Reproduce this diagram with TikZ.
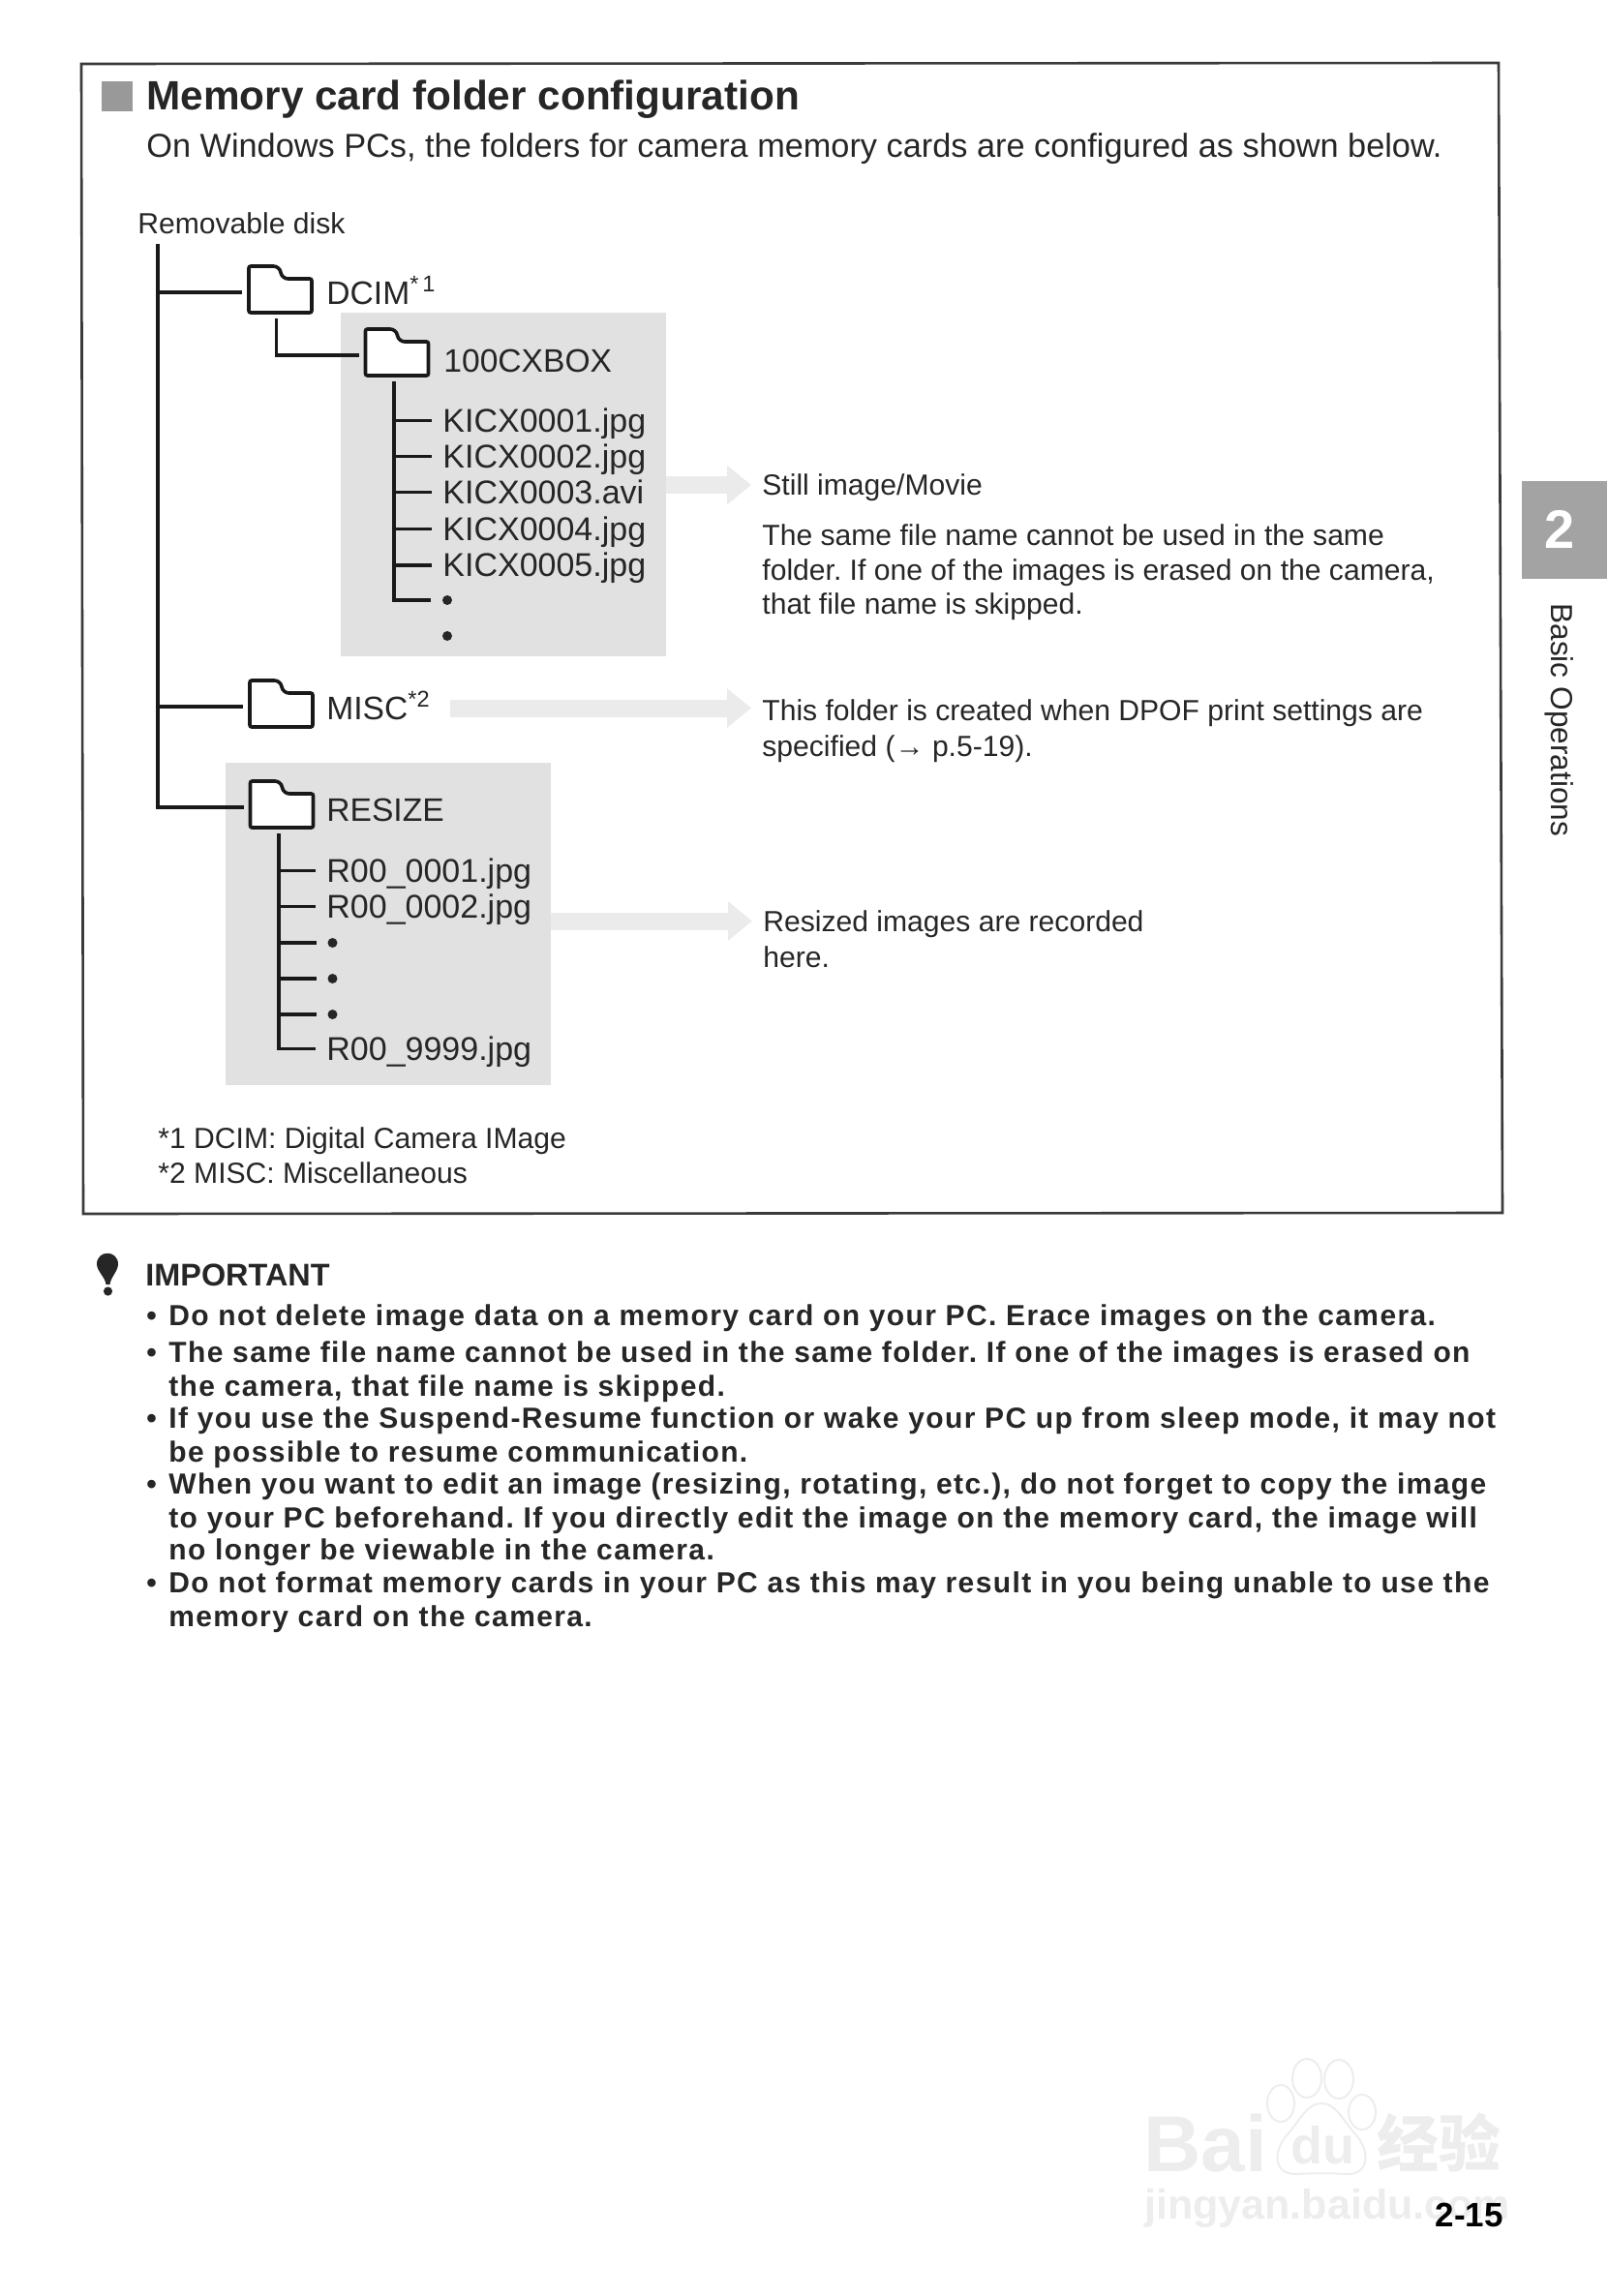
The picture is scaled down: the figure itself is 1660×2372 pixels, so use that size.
\documentclass[tikz,border=0pt]{standalone}
\usepackage{fontspec}
\setmainfont{Liberation Sans}
\newfontfamily\cjkfont{Noto Sans CJK SC}
\usepackage{xcolor}
\usepackage{tikz}
\usetikzlibrary{arrows.meta}

% Folder icon: name, x, y of the point where its branch comes in
\newcommand{\foldericon}[3]{%
  \node[folderbox] (#1) at (#2,#3) {};
  \draw[folderline, shift={(#2,#3)}] (-32.5,21) -- (-32.5,-27) [rounded corners=3pt] -- (-1,-27)
    -- (2,-14) [rounded corners=1pt] -- (32.5,-14) -- (32.5,21) -- cycle;
}
\newcommand{\listmark}{\makebox[11.5pt][l]{•}}
\frenchspacing

\begin{document}
\begin{tikzpicture}[x=0.5pt, y=-0.5pt]
  % Colour definitions
  \definecolor{inkdark}{HTML}{262626}
  \definecolor{framegrey}{HTML}{3A3A3A}
  \definecolor{panelgrey}{HTML}{E1E1E1}
  \definecolor{arrowgrey}{HTML}{EBEBEB}
  \definecolor{tabgrey}{HTML}{A3A3A3}
  \definecolor{markgrey}{HTML}{EDEDED}

  \tikzstyle{folderbox} = [inner sep=0pt, minimum width=32.5pt, minimum height=27pt,
    outer xsep=3.5pt, outer ysep=0pt]
  \tikzstyle{folderline} = [draw=black!90, fill=white, line width=1.8pt,
    rounded corners=1pt]
  \tikzstyle{treeline} = [draw=black!90, line width=1.7pt]
  \tikzstyle{softarrow} = [draw=arrowgrey, line width=9pt,
    -{Triangle[width=19.5pt, length=12.5pt]}]
  \tikzstyle{panel} = [fill=panelgrey, inner sep=0pt]
  \tikzstyle{filelabel} = [anchor=base west, inner xsep=5.5pt, inner ysep=0pt,
    text height=11.5pt, text depth=0pt, text=inkdark, font=\fontsize{17}{20}\selectfont]
  \tikzstyle{foldername} = [anchor=base west, inner sep=0pt, text height=11.5pt,
    text depth=0pt, text=inkdark, font=\fontsize{16.8}{20}\selectfont]
  \tikzstyle{filedot} = [circle, fill=inkdark, inner sep=0pt, minimum size=5pt,
    outer sep=6pt]
  \tikzstyle{notelabel} = [anchor=base west, inner sep=0pt, outer xsep=5.7pt,
    text height=10.5pt, text depth=0pt, text=inkdark, font=\fontsize{15.05}{18}\selectfont]
  \tikzstyle{smalllabel} = [anchor=base west, inner sep=0pt, text=inkdark,
    font=\fontsize{15.05}{18}\selectfont]
  \tikzstyle{warnline} = [anchor=base west, inner sep=0pt, text=inkdark,
    font=\fontsize{15}{18}\bfseries\selectfont\addfontfeatures{LetterSpace=4.6}]
  \tikzstyle{markline} = [draw=markgrey, line width=1pt]
  \tikzstyle{marktext} = [anchor=base west, inner sep=0pt, text=markgrey]

  \useasboundingbox (0,0) rectangle (1660,2372);

  % Watermark (drawn first, behind the page number)
  \node[marktext, font=\fontsize{41}{44}\bfseries\selectfont] (markbai) at (1181,2243) {Bai};
  \node[marktext, font=\fontsize{27}{30}\bfseries\selectfont] (markdu) at (1333,2235) {du};
  \node[marktext, font=\fontsize{32}{35}\cjkfont\bfseries\selectfont] (markcjk) at (1422,2238) {经验};
  \node[marktext, font=\fontsize{21.5}{25}\bfseries\selectfont] (markurl) at (1182,2292) {jingyan.baidu.com};
  \draw[markline] (1365,2173) .. controls (1350,2173) and (1343,2190) .. (1330,2205)
    .. controls (1317,2218) and (1312,2247) .. (1340,2246)
    .. controls (1350,2245) and (1380,2245) .. (1390,2246)
    .. controls (1418,2247) and (1413,2218) .. (1400,2205)
    .. controls (1387,2190) and (1380,2173) .. (1365,2173) -- cycle;
  \draw[markline] (1323,2173) ellipse (7pt and 9.5pt);
  \draw[markline] (1350,2147) ellipse (7.5pt and 10pt);
  \draw[markline] (1383,2148) ellipse (7.5pt and 10pt);
  \draw[markline] (1407,2182) ellipse (7pt and 9pt);

  % Frame and heading
  \draw[framegrey, line width=1.3pt] (84,66) -- (1548,65) -- (1552,1253) -- (86,1254) -- cycle;
  \fill[black!40] (105,84) rectangle (137,115);
  \node[anchor=base west, inner sep=0pt, text=inkdark, font=\fontsize{21.15}{24}\bfseries\selectfont]
    (heading) at (151,113) {Memory card folder configuration};
  \node[anchor=base west, inner sep=0pt, text=inkdark, font=\fontsize{17.15}{20}\selectfont]
    (subheading) at (151,162) {On Windows PCs, the folders for camera memory cards are configured as shown below.};

  % Grey panels
  \node[panel, minimum width=168pt, minimum height=177.5pt] (cxboxpanel) at (520,500.5) {};
  \node[panel, minimum width=168pt, minimum height=166.5pt] (resizepanel) at (401,954.5) {};

  % Folder icons
  \foldericon{dcimfolder}{289.5}{302}
  \foldericon{cxboxfolder}{410}{367}
  \foldericon{miscfolder}{290.5}{730}
  \foldericon{resizefolder}{291}{834}

  \node[smalllabel] (removable) at (142,241) {Removable disk};
  \node[foldername] (dcimname) at (337,314) {DCIM\textsuperscript{*\,1}};
  \node[foldername] (cxboxname) at (458,384) {100CXBOX};
  \node[foldername] (miscname) at (337,743) {MISC\textsuperscript{*2}};
  \node[foldername] (resizename) at (337,848) {RESIZE};

  % File names
  \node[filelabel] (kicxone) at (446,446) {KICX0001.jpg};
  \node[filelabel] (kicxtwo) at (446,483) {KICX0002.jpg};
  \node[filelabel] (kicxthree) at (446,520) {KICX0003.avi};
  \node[filelabel] (kicxfour) at (446,558) {KICX0004.jpg};
  \node[filelabel] (kicxfive) at (446,595.5) {KICX0005.jpg};
  \node[filedot] (kicxdot) at (462,620) {};
  \node[filedot] (kicxdotend) at (462,657) {};
  \node[filelabel] (resone) at (326,911) {R00\_0001.jpg};
  \node[filelabel] (restwo) at (326,948) {R00\_0002.jpg};
  \node[filedot] (resdota) at (343.5,974) {};
  \node[filedot] (resdotb) at (343.5,1011) {};
  \node[filedot] (resdotc) at (343.5,1048) {};
  \node[filelabel] (reslast) at (326,1095) {R00\_9999.jpg};

  % Tree lines
  \coordinate (disktrunk) at (163,252);
  \coordinate (cxboxtrunk) at ([xshift=-1.5pt]cxboxfolder.south);
  \coordinate (resizetrunk) at ([xshift=-1.5pt]resizefolder.south);
  \draw[treeline] (disktrunk) |- (resizefolder.west);
  \draw[treeline] (dcimfolder.west -| disktrunk) -- (dcimfolder.west);
  \draw[treeline] (miscfolder.west -| disktrunk) -- (miscfolder.west);
  \draw[treeline] ([xshift=-2pt]dcimfolder.south) |- (cxboxfolder.west);
  \draw[treeline] (cxboxtrunk) |- (kicxdot.west);
  \draw[treeline] (kicxone.west -| cxboxtrunk) -- (kicxone.west);
  \draw[treeline] (kicxtwo.west -| cxboxtrunk) -- (kicxtwo.west);
  \draw[treeline] (kicxthree.west -| cxboxtrunk) -- (kicxthree.west);
  \draw[treeline] (kicxfour.west -| cxboxtrunk) -- (kicxfour.west);
  \draw[treeline] (kicxfive.west -| cxboxtrunk) -- (kicxfive.west);
  \draw[treeline] (resizetrunk) |- (reslast.west);
  \draw[treeline] (resone.west -| resizetrunk) -- (resone.west);
  \draw[treeline] (restwo.west -| resizetrunk) -- (restwo.west);
  \draw[treeline] (resdota.west -| resizetrunk) -- (resdota.west);
  \draw[treeline] (resdotb.west -| resizetrunk) -- (resdotb.west);
  \draw[treeline] (resdotc.west -| resizetrunk) -- (resdotc.west);

  % Notes at the right
  \node[notelabel] (stillhead) at (776,511.5) {Still image/Movie};
  \node[notelabel] (stillone) at (776,563) {The same file name cannot be used in the same};
  \node[notelabel] (stilltwo) at (776,599) {folder. If one of the images is erased on the camera,};
  \node[notelabel] (stillthree) at (776,634) {that file name is skipped.};
  \node[notelabel] (miscone) at (776,744.5) {This folder is created when DPOF print settings are};
  \node[notelabel] (misctwo) at (776,781) {specified (→ p.5-19).};
  \node[notelabel] (resizeone) at (777,962) {Resized images are recorded};
  \node[notelabel] (resizetwo) at (777,999) {here.};

  % Soft arrows
  \draw[softarrow] (stillhead.west -| cxboxpanel.east) -- (stillhead.west);
  \draw[softarrow] ([xshift=10pt]miscname.east) -- (miscname.east -| miscone.west);
  \draw[softarrow] (resizeone.west -| resizepanel.east) -- (resizeone.west);

  % Footnotes
  \node[smalllabel] (noteone) at (163,1186) {*1 DCIM: Digital Camera IMage};
  \node[smalllabel] (notetwo) at (163,1222) {*2 MISC: Miscellaneous};

  % Important block
  \fill[inkdark] (100,1306) .. controls (100,1291) and (122,1291) .. (122,1306)
    .. controls (122,1313) and (114,1320) .. (113.5,1327) -- (109.5,1327)
    .. controls (109,1320) and (100,1313) .. (100,1306) -- cycle;
  \fill[inkdark] (111.5,1334) circle (2.3pt);
  \node[warnline, font=\fontsize{16.2}{19}\bfseries\selectfont] (important) at (150,1328.5) {IMPORTANT};
  \node[warnline] (warnone) at (151,1369) {\listmark Do not delete image data on a memory card on your PC. Erace images on the camera.};
  \node[warnline] (warntwo) at (151,1407) {\listmark The same file name cannot be used in the same folder. If one of the images is erased on};
  \node[warnline] (warntwob) at (174,1442) {the camera, that file name is skipped.};
  \node[warnline] (warnthree) at (151,1475) {\listmark If you use the Suspend-Resume function or wake your PC up from sleep mode, it may not};
  \node[warnline] (warnthreeb) at (174,1510) {be possible to resume communication.};
  \node[warnline] (warnfour) at (151,1543) {\listmark When you want to edit an image (resizing, rotating, etc.), do not forget to copy the image};
  \node[warnline] (warnfourb) at (174,1578) {to your PC beforehand. If you directly edit the image on the memory card, the image will};
  \node[warnline] (warnfourc) at (174,1611) {no longer be viewable in the camera.};
  \node[warnline] (warnfive) at (151,1645) {\listmark Do not format memory cards in your PC as this may result in you being unable to use the};
  \node[warnline] (warnfiveb) at (174,1680) {memory card on the camera.};

  % Chapter tab and page number
  \fill[tabgrey] (1572,497) rectangle (1660,598);
  \node[inner sep=0pt, text=white, font=\fontsize{28}{30}\bfseries\selectfont] (chapter) at (1611,547) {2};
  \node[anchor=base west, inner sep=0pt, rotate=-90, text=inkdark, font=\fontsize{15.8}{18}\selectfont]
    (chaptername) at (1602,623) {Basic Operations};
  \node[anchor=base east, inner sep=0pt, text=black, font=\fontsize{17.5}{20}\bfseries\selectfont]
    (pagenumber) at (1553,2300) {2-15};
\end{tikzpicture}
\end{document}
